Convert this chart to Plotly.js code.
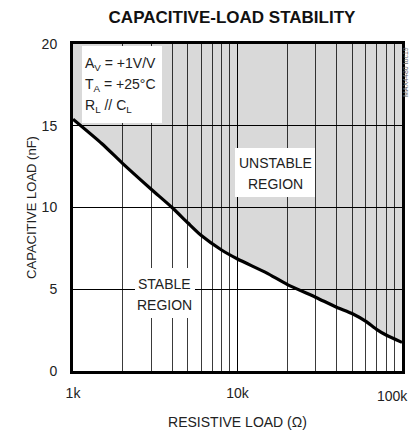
<!DOCTYPE html>
<html>
<head>
<meta charset="utf-8">
<script src="https://cdn.plot.ly/plotly-3.0.1.min.js"></script>
<style>html,body{margin:0;padding:0;background:#fff;}#chart{width:411px;height:432px;}</style>
</head>
<body>
<div id="chart"></div>
<script>
// Data
const resistanceOhm = [1000, 1500, 2000, 3000, 4000, 5000, 6000, 8000, 10000, 15000, 20000, 30000, 40000, 50000, 60000, 70000, 80000, 100000];
const capacitanceNF = [15.4, 13.9, 12.7, 11.1, 10.0, 9.05, 8.3, 7.4, 6.85, 6.0, 5.3, 4.5, 3.9, 3.5, 3.05, 2.55, 2.2, 1.75];
const xTickVals = [1000, 10000, 100000];
const xTickText = ['1k', '10k', '100k'];
const xMinorVals = [2000, 3000, 4000, 5000, 6000, 7000, 8000, 9000, 20000, 30000, 40000, 50000, 60000, 70000, 80000, 90000];
const yTickVals = [0, 5, 10, 15, 20];
const xRange = [1000, 100000];
const yRange = [0, 20];
const conditionLines = ['A<sub>V</sub> = +1V/V', 'T<sub>A</sub> = +25°C', 'R<sub>L</sub> // C<sub>L</sub>'];
const unstableLines = ['UNSTABLE', 'REGION'];
const stableLines = ['STABLE', 'REGION'];

const FONT = '"Liberation Sans", Arial, sans-serif';
const TXT = '#222';

// unstable region polygon: curve then top corners of the axis range
const regionX = resistanceOhm.concat([xRange[1], xRange[0]]);
const regionY = capacitanceNF.concat([yRange[1], yRange[1]]);

const traces = [
  {
    x: regionX, y: regionY, type: 'scatter', mode: 'none',
    fill: 'toself', fillcolor: 'rgba(0,0,0,0.15)', hoverinfo: 'skip', showlegend: false
  },
  {
    x: resistanceOhm, y: capacitanceNF, type: 'scatter', mode: 'lines',
    line: {color: '#000', width: 3.2, shape: 'spline', smoothing: 0.6}, showlegend: false
  }
];

function box(x0, x1, y0, y1) {
  return {type: 'rect', xref: 'paper', yref: 'paper', x0: x0, x1: x1, y0: y0, y1: y1,
          fillcolor: '#fff', line: {width: 0}, layer: 'above'};
}
function label(text, x, y, xanchor) {
  return {xref: 'paper', yref: 'paper', x: x, y: y, xanchor: xanchor, yanchor: 'middle',
          text: text, showarrow: false, align: xanchor === 'left' ? 'left' : 'center',
          font: {family: FONT, size: 14, color: TXT}};
}

const annotations = [];
const c1y = [0.938, 0.874, 0.810];
conditionLines.forEach((t, i) => annotations.push(label(t, 0.0304, c1y[i], 'left')));
const c2y = [0.6361, 0.5719];
unstableLines.forEach((t, i) => annotations.push(label(t, 0.614, c2y[i], 'center')));
const c3y = [0.266, 0.2018];
stableLines.forEach((t, i) => annotations.push(label(t, 0.2796, c3y[i], 'center')));
annotations.push({
  xref: 'paper', yref: 'paper', x: 1.013, y: 0.915, xanchor: 'center', yanchor: 'middle',
  text: 'MAX4480 toc19', showarrow: false, textangle: -90,
  font: {family: FONT, size: 7, color: '#666'}
});
// last x tick label is drawn right-aligned to stay inside the picture, as in the reference
annotations.push({
  xref: 'x', yref: 'paper', x: Math.log10(xTickVals[2]), y: 0, xanchor: 'right', yanchor: 'top',
  xshift: 8, yshift: -15, text: xTickText[2], showarrow: false,
  font: {family: FONT, size: 14, color: TXT}
});
const shownTickText = xTickText.map((t, i) => i === xTickText.length - 1 ? '' : t);

const layout = {
  width: 411, height: 432,
  margin: {l: 73, r: 9, t: 44, b: 61},
  paper_bgcolor: '#fff', plot_bgcolor: '#fff',
  font: {family: FONT, size: 14, color: TXT},
  title: {
    text: '<b>CAPACITIVE-LOAD STABILITY</b>',
    font: {family: FONT, size: 17, color: '#111'},
    x: 0.5645, xanchor: 'center', y: 0.9595, yanchor: 'middle'
  },
  xaxis: {
    type: 'log', range: [Math.log10(xRange[0]), Math.log10(xRange[1])],
    tickmode: 'array', tickvals: xTickVals, ticktext: shownTickText,
    ticks: '', ticklabelstandoff: 7,
    showgrid: true, gridcolor: '#000', gridwidth: 1.8,
    minor: {tickmode: 'array', tickvals: xMinorVals, showgrid: true, gridcolor: '#3a3a3a', gridwidth: 1, ticks: ''},
    showline: true, mirror: true, linecolor: '#000', linewidth: 3,
    zeroline: false,
    tickfont: {family: FONT, size: 14, color: TXT},
    title: {text: 'RESISTIVE LOAD (Ω)', font: {family: FONT, size: 14, color: TXT}, standoff: 18}
  },
  yaxis: {
    range: yRange, tickmode: 'array', tickvals: yTickVals,
    ticks: '', ticklabelstandoff: 10,
    showgrid: true, gridcolor: '#000', gridwidth: 1.3,
    showline: true, mirror: true, linecolor: '#000', linewidth: 3,
    zeroline: false,
    tickfont: {family: FONT, size: 14, color: TXT},
    title: {text: 'CAPACITIVE LOAD (nF)', font: {family: FONT, size: 13, color: TXT}, standoff: 3}
  },
  shapes: [
    box(0.0274, 0.2705, 0.7584, 0.9939),
    box(0.4924, 0.7356, 0.5321, 0.682),
    box(0.1884, 0.3708, 0.1621, 0.315)
  ],
  annotations: annotations
};

Plotly.newPlot('chart', traces, layout, {staticPlot: true, displayModeBar: false});
</script>
</body>
</html>
